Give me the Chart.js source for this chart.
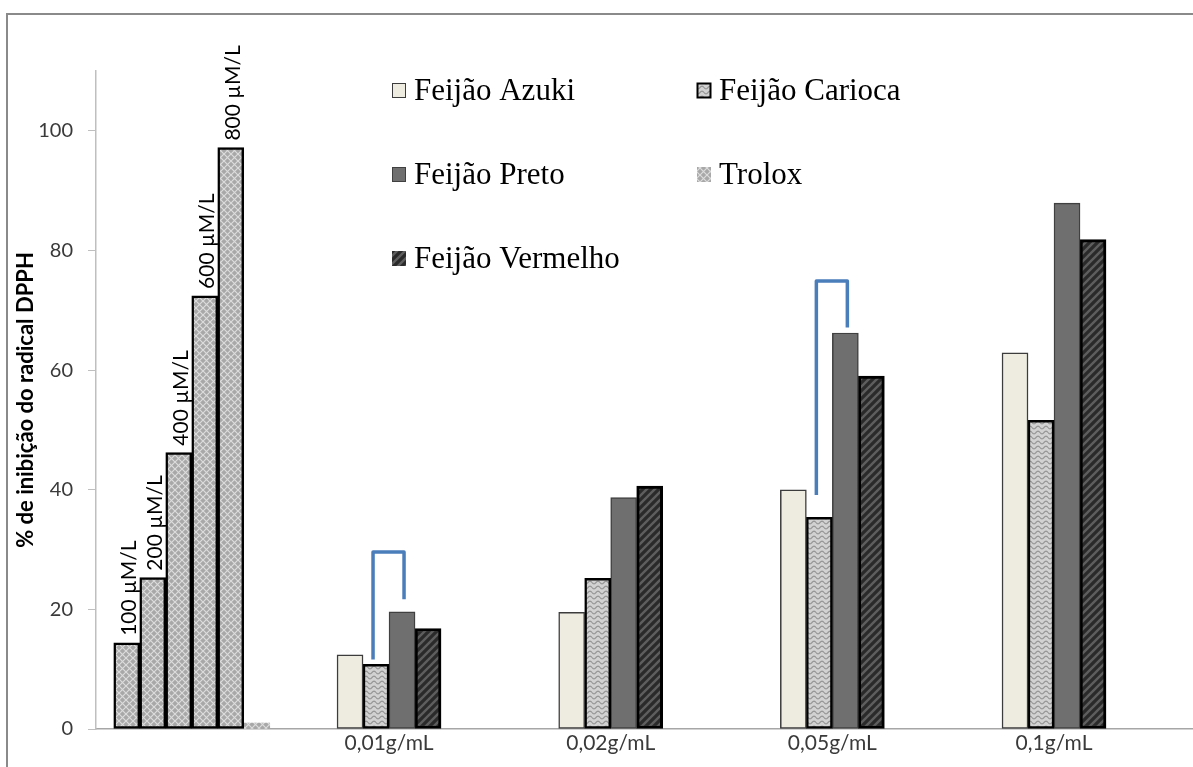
<!DOCTYPE html>
<html>
<head>
<meta charset="utf-8">
<script src="https://cdn.jsdelivr.net/npm/chart.js@4.4.1/dist/chart.umd.min.js"></script>
<style>
html, body { margin: 0; padding: 0; background: #fff; overflow: hidden; }
#wrap { position: relative; width: 1193px; height: 767px; overflow: hidden; }
#frame { position: absolute; left: 6px; top: 13px; width: 1220px; height: 820px; border: 2px solid #8a8a8a; }
#chart { position: absolute; left: 0; top: 0; }
</style>
</head>
<body>
<div id="wrap">
  <div id="frame"></div>
  <canvas id="chart" width="1193" height="767"></canvas>
</div>
<script>
// group positions on the x axis and their labels
const groupPos = [0.11, 1, 2, 3, 4];
const groupLabels = ['', '0,01g/mL', '0,02g/mL', '0,05g/mL', '0,1g/mL'];
const yTicks = [0, 20, 40, 60, 80, 100];

// Trolox standard curve (first group)
const troloxLabels = ['100 µM/L', '200 µM/L', '400 µM/L', '600 µM/L', '800 µM/L'];
const troloxValues = [14.4, 25.3, 46.2, 72.4, 97.2];

// % inhibition per extract concentration
const azuki = [null, 12.4, 19.5, 40.0, 62.9];
const carioca = [null, 10.8, 25.2, 35.4, 51.6];
const preto = [null, 19.6, 38.7, 66.2, 87.9];
const trolox = [1.0, null, null, null, null];
const vermelho = [null, 16.8, 40.6, 59.0, 81.8];

const legendLabels = ['Feijão Azuki', 'Feijão Carioca', 'Feijão Preto', 'Trolox', 'Feijão Vermelho'];

// blue brackets (Carioca -> Preto)
const bracketGroup = [1, 3];
const bracketTop = [29.6, 74.9];
const bracketLeftEnd = [11.6, 39.1];
const bracketRightEnd = [21.7, 67.1];

const SANS = 'Lato';
const SERIF = 'Liberation Serif';

function makePattern(w, h, draw) {
    const c = document.createElement('canvas');
    c.width = w;
    c.height = h;
    const g = c.getContext('2d');
    draw(g, w, h);
    return g.createPattern(c, 'repeat');
}

const wavePattern = makePattern(8, 5, (g, w, h) => {
    g.fillStyle = '#d2d2d2';
    g.fillRect(0, 0, w, h);
    g.strokeStyle = '#979797';
    g.lineWidth = 1.2;
    g.beginPath();
    for (let x = 0; x <= w; x += 0.5) {
        const y = 2.5 + 1.3 * Math.sin(2 * Math.PI * x / w);
        if (x === 0) g.moveTo(x, y); else g.lineTo(x, y);
    }
    g.stroke();
});

const crossPattern = makePattern(7, 7, (g, w, h) => {
    g.fillStyle = '#a8a8a8';
    g.fillRect(0, 0, w, h);
    g.strokeStyle = '#dcdcdc';
    g.lineWidth = 1.2;
    g.beginPath();
    g.moveTo(0, 0); g.lineTo(w, h);
    g.moveTo(w, 0); g.lineTo(0, h);
    g.stroke();
});

const stripePattern = makePattern(8, 8, (g, w, h) => {
    g.fillStyle = '#2a2a2a';
    g.fillRect(0, 0, w, h);
    g.strokeStyle = '#5e5e5e';
    g.lineWidth = 2.4;
    g.beginPath();
    g.moveTo(0, h); g.lineTo(w, 0);
    g.moveTo(-4, 4); g.lineTo(4, -4);
    g.moveTo(4, 12); g.lineTo(12, 4);
    g.stroke();
});

const azukiStyle = { fill: '#eeece1', border: '#3c3c3c', width: 1.5 };
const cariocaStyle = { fill: wavePattern, border: '#000000', width: 2.5 };
const pretoStyle = { fill: '#6f6f6f', border: '#404040', width: 1.5 };
const troloxStyle = { fill: crossPattern, border: '#000000', width: 0 };
const vermelhoStyle = { fill: stripePattern, border: '#000000', width: 3 };
const legendStyles = [azukiStyle, cariocaStyle, pretoStyle, troloxStyle, vermelhoStyle];

function barSet(label, data, style) {
    return {
        label: label,
        data: data,
        backgroundColor: style.fill,
        borderColor: style.border,
        borderWidth: style.width
    };
}

const datasets = [];
troloxLabels.forEach((label, i) => {
    const data = groupPos.map((p, j) => j === 0 ? troloxValues[i] : null);
    datasets.push(barSet(label, data, { fill: crossPattern, border: '#000000', width: 2.5 }));
});
datasets.push(barSet('Feijão Azuki', azuki, azukiStyle));
datasets.push(barSet('Feijão Carioca', carioca, cariocaStyle));
datasets.push(barSet('Feijão Preto', preto, pretoStyle));
datasets.push(barSet('Trolox', trolox, troloxStyle));
datasets.push(barSet('Feijão Vermelho', vermelho, vermelhoStyle));

const CARIOCA_INDEX = troloxLabels.length + 1;
const PRETO_INDEX = troloxLabels.length + 2;

const concLabelPlugin = {
    id: 'concLabels',
    afterDatasetsDraw(chart) {
        const ctx = chart.ctx;
        ctx.save();
        ctx.font = '21px ' + SANS;
        ctx.fillStyle = '#000';
        ctx.textAlign = 'left';
        ctx.textBaseline = 'middle';
        troloxLabels.forEach((label, i) => {
            const bar = chart.getDatasetMeta(i).data[0];
            ctx.save();
            ctx.translate(bar.x + 2, bar.y - 7);
            ctx.rotate(-Math.PI / 2);
            ctx.fillText(label, 0, 0);
            ctx.restore();
        });
        ctx.restore();
    }
};

const bracketPlugin = {
    id: 'brackets',
    afterDatasetsDraw(chart) {
        const ctx = chart.ctx;
        const y = chart.scales.y;
        ctx.save();
        ctx.strokeStyle = '#4a7ebb';
        ctx.lineWidth = 3.5;
        ctx.lineJoin = 'round';
        bracketGroup.forEach((g, k) => {
            const left = chart.getDatasetMeta(CARIOCA_INDEX).data[g];
            const right = chart.getDatasetMeta(PRETO_INDEX).data[g];
            const xl = left.x - 3;
            const xr = right.x + 2;
            ctx.beginPath();
            ctx.moveTo(xl, y.getPixelForValue(bracketLeftEnd[k]));
            ctx.lineTo(xl, y.getPixelForValue(bracketTop[k]));
            ctx.lineTo(xr, y.getPixelForValue(bracketTop[k]));
            ctx.lineTo(xr, y.getPixelForValue(bracketRightEnd[k]));
            ctx.stroke();
        });
        ctx.restore();
    }
};

const legendPlugin = {
    id: 'gridLegend',
    afterDraw(chart) {
        const ctx = chart.ctx;
        const area = chart.chartArea;
        const colX = [area.left + 296, area.left + 601];
        const rowY = [area.top + 12, area.top + 96, area.top + 180];
        ctx.save();
        ctx.font = '31px ' + SERIF;
        ctx.fillStyle = '#000';
        ctx.textAlign = 'left';
        ctx.textBaseline = 'alphabetic';
        legendLabels.forEach((label, i) => {
            const x = colX[i % 2];
            const top = rowY[Math.floor(i / 2)];
            const st = legendStyles[i];
            ctx.fillStyle = st.fill;
            ctx.fillRect(x, top, 14, 15);
            if (i !== 3 && i !== 4) {
                ctx.strokeStyle = st.border;
                ctx.lineWidth = i === 1 ? 2 : 1;
                ctx.strokeRect(x + 0.5, top + 0.5, 13, 14);
            }
            ctx.fillStyle = '#000';
            ctx.fillText(label, x + 22, top + 17);
        });
        ctx.restore();
    }
};

new Chart(document.getElementById('chart'), {
    type: 'bar',
    data: {
        labels: groupPos,
        datasets: datasets
    },
    options: {
        responsive: false,
        animation: false,
        devicePixelRatio: 1,
        layout: { padding: { top: 71, left: 0, right: 0, bottom: 0 } },
        datasets: {
            bar: { barThickness: 26, skipNull: true, borderSkipped: false }
        },
        plugins: {
            legend: { display: false },
            tooltip: { enabled: false }
        },
        scales: {
            x: {
                type: 'linear',
                bounds: 'data',
                offset: false,
                grace: 0,
                min: -0.322,
                max: 4.627,
                grid: { display: false, drawTicks: false },
                border: { color: '#a6a6a6', width: 1.5 },
                afterBuildTicks: (axis) => { axis.ticks = groupPos.map(v => ({ value: v })); },
                afterFit: (scale) => { scale.height = 38; },
                ticks: {
                    autoSkip: false,
                    maxRotation: 0,
                    padding: 2,
                    color: '#3a3a3a',
                    font: { family: SANS, size: 21 },
                    callback: (value, index) => groupLabels[index]
                }
            },
            y: {
                bounds: 'data',
                min: 0,
                max: 110,
                afterBuildTicks: (axis) => { axis.ticks = yTicks.map(v => ({ value: v })); },
                afterFit: (scale) => { scale.width = 96; },
                grid: { drawOnChartArea: false, drawTicks: true, tickLength: 8, color: '#bfbfbf' },
                border: { color: '#bfbfbf', width: 1.5 },
                ticks: {
                    padding: 15,
                    color: '#3a3a3a',
                    font: { family: SANS, size: 20 }
                },
                title: {
                    display: true,
                    text: '% de inibição do radical DPPH',
                    color: '#000',
                    font: { family: SANS, size: 22, weight: 'bold' },
                    padding: { top: 13, bottom: 0 }
                }
            }
        }
    },
    plugins: [bracketPlugin, concLabelPlugin, legendPlugin]
});
</script>
</body>
</html>
